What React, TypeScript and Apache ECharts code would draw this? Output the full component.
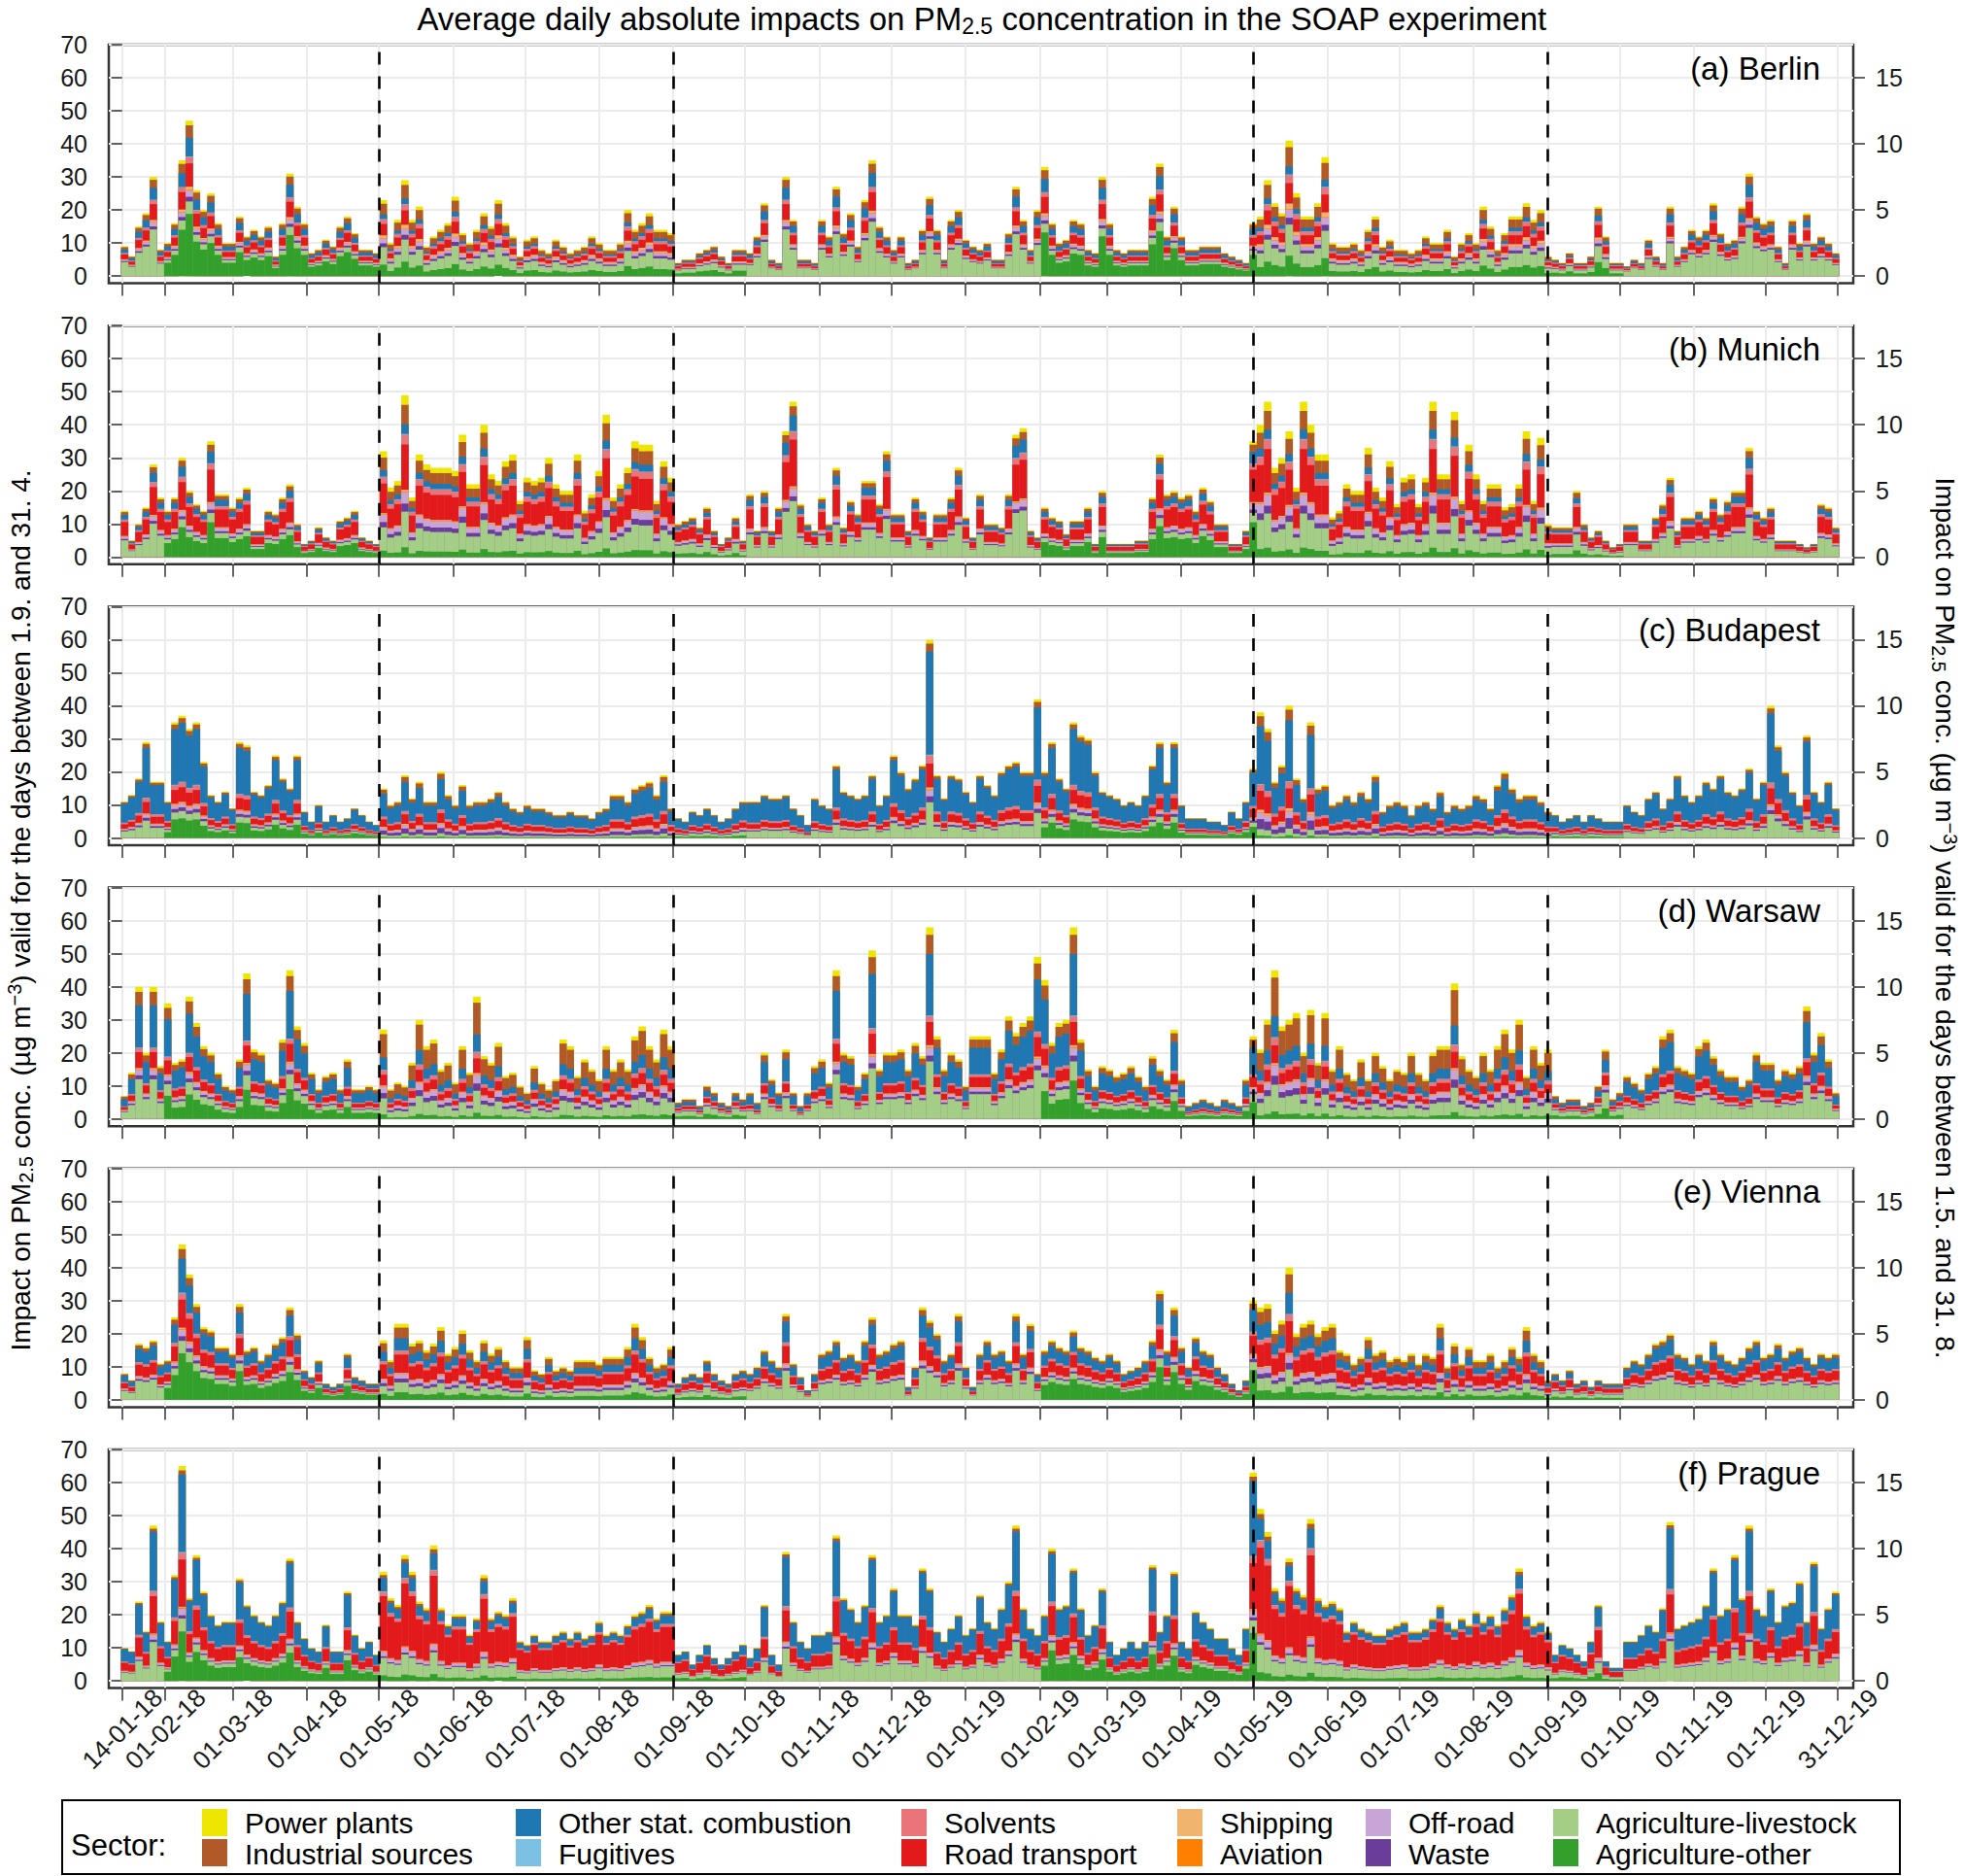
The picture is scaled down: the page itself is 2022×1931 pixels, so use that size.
import { useEffect, useRef } from "react";
import * as echarts from "echarts";

const FONT = '"Liberation Sans", Arial, Helvetica, sans-serif';

// legend order (top of the stack first)
const SECTORS = [
  "Power plants", "Industrial sources", "Other stat. combustion", "Fugitives",
  "Solvents", "Road transport", "Shipping", "Aviation", "Off-road", "Waste",
  "Agriculture-livestock", "Agriculture-other",
];
const SECTOR_COLORS = [
  "#EEE600", "#B15928", "#1F78B4", "#7CC0E4", "#E9757A", "#E31A1C",
  "#F0B46F", "#FF7F00", "#C8A5D7", "#6A3D9A", "#A4CD86", "#33A02C",
];

const CITIES = ["(a) Berlin", "(b) Munich", "(c) Budapest", "(d) Warsaw", "(e) Vienna", "(f) Prague"];

// days counted from 14-01-2018
const TICK_DAYS = [0, 18, 46, 77, 107, 138, 168, 199, 230, 260, 291, 321, 352, 383, 411, 442, 472, 503, 533, 564, 595, 625, 656, 686, 716];
const TICK_LABELS = [
  "14-01-18", "01-02-18", "01-03-18", "01-04-18", "01-05-18", "01-06-18", "01-07-18", "01-08-18",
  "01-09-18", "01-10-18", "01-11-18", "01-12-18", "01-01-19", "01-02-19", "01-03-19", "01-04-19",
  "01-05-19", "01-06-19", "01-07-19", "01-08-19", "01-09-19", "01-10-19", "01-11-19", "01-12-19", "31-12-19",
];
const DASH_DAYS = [107, 230, 472, 595];
const LEFT_TICKS = [0, 10, 20, 30, 40, 50, 60, 70];
const RIGHT_TICKS = [0, 5, 10, 15];

// season of each stretch of days: W0 winter, W1 late winter/spring, S summer (right axis), A September
const SEASON_START = [0, 18, 107, 230, 260, 383, 472, 595, 625];
const SEASON_KIND = ["W0", "W1", "S", "A", "W0", "W1", "S", "A", "W0"];

// 3-day bins of the plotted total (left-axis units)
const BIN = 3;
const berlin = [
  9, 6, 15, 19, 30, 8, 10, 16, 35, 47, 26, 20, 25, 16, 10, 10, 18, 12, 14, 12,
  15, 6, 16, 31, 21, 16, 7, 8, 11, 9, 15, 18, 13, 8, 8, 7, 23, 10, 17, 29,
  17, 21, 9, 12, 14, 16, 24, 13, 10, 14, 19, 15, 23, 16, 12, 6, 11, 12, 8, 7,
  11, 9, 7, 8, 9, 12, 10, 8, 8, 10, 20, 14, 16, 19, 14, 14, 13, 4, 5, 5,
  7, 8, 9, 6, 4, 8, 8, 7, 12, 22, 5, 4, 30, 17, 5, 5, 4, 17, 12, 27,
  13, 19, 9, 23, 35, 15, 12, 8, 12, 4, 5, 14, 24, 14, 5, 17, 20, 11, 9, 8,
  10, 5, 5, 13, 27, 17, 8, 20, 33, 16, 10, 11, 17, 16, 8, 7, 30, 16, 8, 7,
  8, 8, 8, 24, 34, 12, 21, 12, 8, 8, 9, 9, 9, 7, 6, 5, 4, 16, 18, 29,
  22, 19, 41, 25, 18, 18, 22, 36, 10, 9, 9, 10, 8, 14, 18, 9, 11, 8, 8, 7,
  8, 12, 10, 10, 14, 6, 10, 13, 10, 21, 15, 8, 13, 18, 18, 22, 17, 20, 6, 5,
  4, 7, 4, 4, 6, 21, 12, 4, 4, 3, 5, 4, 11, 6, 4, 21, 6, 9, 14, 12,
  14, 22, 13, 10, 11, 21, 31, 18, 16, 17, 9, 4, 17, 10, 19, 10, 12, 10, 7,
];
const munich = [
  14, 5, 10, 15, 28, 18, 14, 18, 30, 20, 16, 14, 35, 19, 19, 15, 18, 21, 8, 8,
  14, 13, 18, 22, 10, 4, 5, 9, 6, 5, 11, 12, 14, 6, 5, 4, 32, 21, 23, 49,
  18, 31, 28, 27, 27, 27, 26, 37, 22, 22, 40, 25, 23, 29, 31, 17, 24, 23, 24, 30,
  22, 20, 20, 31, 14, 19, 26, 43, 18, 22, 27, 35, 34, 34, 17, 29, 24, 10, 11, 12,
  9, 15, 8, 4, 6, 12, 5, 19, 8, 20, 8, 15, 38, 47, 16, 10, 8, 18, 10, 27,
  9, 17, 13, 23, 23, 16, 32, 13, 13, 8, 18, 14, 6, 13, 13, 18, 27, 12, 6, 19,
  10, 10, 9, 19, 37, 39, 8, 6, 15, 12, 11, 7, 11, 11, 15, 4, 20, 4, 4, 4,
  4, 5, 5, 18, 31, 19, 20, 18, 19, 14, 21, 17, 10, 10, 4, 4, 8, 35, 40, 47,
  27, 30, 38, 21, 47, 40, 31, 31, 12, 14, 22, 20, 20, 33, 21, 18, 29, 16, 24, 25,
  16, 24, 47, 25, 25, 44, 17, 34, 25, 17, 22, 22, 15, 16, 22, 38, 17, 36, 10, 9,
  9, 9, 20, 10, 6, 8, 5, 3, 4, 10, 10, 5, 5, 12, 16, 24, 8, 12, 12, 14,
  12, 18, 13, 17, 20, 20, 33, 14, 12, 15, 5, 5, 5, 4, 3, 4, 16, 15, 9,
];
const budapest = [
  11, 13, 18, 29, 17, 17, 11, 35, 37, 33, 35, 23, 13, 11, 14, 9, 29, 28, 14, 13,
  16, 25, 18, 15, 25, 8, 5, 10, 5, 7, 5, 6, 9, 7, 5, 4, 15, 10, 11, 19,
  12, 17, 11, 11, 20, 13, 10, 16, 10, 11, 11, 12, 14, 11, 9, 8, 10, 9, 9, 8,
  7, 7, 8, 7, 7, 6, 8, 9, 13, 13, 11, 15, 16, 17, 13, 19, 9, 6, 5, 8,
  7, 9, 7, 5, 6, 9, 11, 11, 11, 13, 12, 12, 13, 9, 7, 4, 12, 10, 9, 22,
  14, 13, 12, 13, 19, 10, 13, 25, 20, 15, 18, 22, 60, 19, 12, 19, 18, 14, 11, 19,
  16, 13, 20, 22, 23, 20, 20, 42, 20, 29, 18, 15, 35, 31, 30, 20, 14, 13, 12, 10,
  11, 10, 13, 22, 29, 17, 29, 10, 6, 6, 6, 5, 5, 4, 8, 6, 11, 21, 38, 33,
  17, 22, 40, 18, 12, 35, 15, 16, 10, 11, 13, 11, 14, 12, 19, 8, 10, 11, 10, 7,
  10, 11, 9, 14, 8, 10, 9, 10, 13, 12, 9, 16, 20, 15, 12, 13, 13, 11, 8, 7,
  5, 6, 7, 5, 7, 6, 5, 5, 5, 10, 8, 7, 12, 14, 9, 12, 19, 13, 11, 13,
  17, 15, 19, 14, 13, 15, 21, 12, 17, 40, 28, 20, 14, 10, 31, 14, 11, 17, 9,
];
const warsaw = [
  7, 14, 40, 20, 40, 16, 35, 17, 18, 37, 29, 22, 20, 14, 10, 9, 18, 44, 21, 20,
  12, 11, 24, 45, 28, 23, 14, 9, 13, 14, 9, 18, 9, 9, 10, 9, 27, 9, 11, 10,
  17, 30, 22, 24, 15, 17, 11, 22, 14, 37, 19, 17, 23, 13, 14, 10, 8, 16, 11, 9,
  12, 24, 22, 13, 18, 15, 12, 22, 15, 18, 15, 25, 28, 22, 18, 27, 22, 5, 6, 6,
  4, 10, 8, 5, 4, 8, 6, 8, 5, 20, 12, 8, 21, 8, 4, 8, 16, 18, 11, 45,
  20, 19, 10, 14, 51, 15, 20, 20, 21, 15, 23, 19, 58, 25, 15, 20, 18, 10, 25, 25,
  25, 14, 21, 31, 26, 29, 31, 49, 42, 23, 29, 30, 58, 24, 15, 10, 16, 15, 13, 14,
  16, 13, 10, 19, 15, 12, 27, 12, 4, 5, 6, 5, 4, 6, 5, 4, 12, 25, 21, 30,
  45, 28, 30, 32, 20, 33, 17, 32, 15, 22, 14, 12, 18, 12, 20, 16, 12, 15, 14, 20,
  14, 12, 20, 22, 22, 41, 19, 15, 13, 20, 15, 22, 27, 21, 30, 13, 22, 17, 21, 7,
  5, 6, 6, 4, 5, 10, 21, 6, 8, 13, 11, 9, 14, 16, 25, 27, 16, 15, 14, 22,
  24, 19, 15, 13, 13, 10, 12, 20, 17, 17, 12, 15, 14, 16, 34, 20, 26, 18, 8,
];
const vienna = [
  8, 6, 17, 16, 18, 11, 12, 25, 47, 38, 29, 22, 21, 16, 16, 14, 29, 15, 16, 12,
  14, 17, 19, 28, 20, 9, 7, 12, 5, 4, 5, 14, 7, 6, 5, 5, 18, 12, 23, 23,
  17, 18, 15, 17, 22, 14, 16, 21, 15, 12, 18, 14, 16, 12, 10, 10, 19, 9, 8, 13,
  9, 10, 9, 12, 12, 12, 11, 13, 13, 13, 16, 23, 19, 13, 10, 11, 16, 5, 7, 8,
  7, 12, 8, 6, 5, 8, 9, 8, 10, 15, 12, 10, 26, 11, 7, 3, 8, 14, 15, 18,
  13, 14, 12, 18, 25, 14, 15, 17, 18, 4, 10, 28, 24, 20, 12, 14, 26, 10, 4, 14,
  18, 14, 15, 12, 26, 14, 23, 8, 15, 18, 16, 15, 21, 16, 15, 13, 12, 14, 12, 8,
  9, 10, 12, 18, 33, 15, 28, 16, 10, 19, 15, 14, 10, 8, 5, 3, 6, 30, 28, 29,
  21, 24, 40, 20, 23, 24, 20, 22, 23, 15, 14, 11, 13, 19, 14, 15, 12, 13, 12, 14,
  11, 14, 13, 23, 10, 17, 11, 16, 12, 12, 14, 10, 12, 16, 13, 22, 14, 12, 6, 8,
  6, 9, 5, 6, 4, 6, 5, 5, 5, 10, 12, 11, 14, 17, 18, 20, 14, 13, 11, 14,
  12, 18, 14, 12, 11, 13, 16, 18, 13, 14, 17, 13, 15, 16, 13, 11, 14, 13, 14,
];
const prague = [
  10, 9, 24, 15, 47, 18, 12, 32, 65, 25, 38, 27, 20, 17, 18, 18, 31, 23, 20, 18,
  17, 20, 24, 37, 18, 13, 10, 9, 17, 9, 9, 27, 14, 10, 12, 8, 33, 25, 23, 38,
  33, 24, 22, 41, 22, 17, 20, 20, 14, 19, 32, 19, 21, 20, 25, 12, 11, 14, 12, 12,
  14, 15, 13, 15, 13, 14, 18, 14, 15, 14, 17, 20, 21, 23, 19, 21, 21, 8, 9, 5,
  8, 11, 7, 5, 7, 9, 11, 7, 10, 23, 8, 5, 39, 18, 12, 10, 14, 14, 15, 44,
  25, 22, 18, 23, 38, 18, 20, 28, 20, 20, 17, 34, 28, 15, 12, 16, 20, 14, 16, 26,
  18, 16, 22, 30, 47, 22, 16, 14, 20, 40, 22, 23, 34, 22, 14, 17, 28, 12, 8, 10,
  12, 10, 12, 35, 15, 20, 33, 12, 10, 21, 18, 16, 13, 13, 10, 8, 16, 63, 52, 45,
  28, 25, 37, 28, 26, 49, 25, 23, 24, 22, 15, 18, 16, 15, 14, 14, 16, 17, 18, 15,
  15, 16, 19, 23, 18, 16, 19, 17, 21, 18, 20, 17, 22, 26, 34, 20, 17, 18, 15, 8,
  11, 10, 8, 6, 12, 23, 6, 4, 4, 12, 12, 14, 17, 15, 22, 48, 16, 17, 18, 19,
  23, 34, 20, 22, 38, 25, 47, 22, 20, 28, 18, 23, 24, 30, 18, 36, 16, 22, 27,
];

// sector shares (%) per season, in SECTORS order
const berlinShares = {
  W0: [3, 8, 12, 0.5, 4, 16, 2, 0.5, 4, 3, 47, 0],
  W1: [3, 8, 12, 0.5, 4, 15, 2, 0.5, 4, 3, 8, 40],
  S: [5, 14, 6, 0.5, 6, 15, 4, 0.5, 6, 5, 23, 15],
  A: [3, 10, 8, 0.5, 5, 18, 3, 0.5, 5, 4, 23, 20],
};
const munichShares = {
  W0: [3, 6, 10, 0.5, 5, 30, 1, 0.5, 5, 3, 36, 0],
  W1: [3, 6, 10, 0.5, 5, 28, 1, 0.5, 5, 3, 8, 30],
  S: [6, 12, 6, 0.5, 6, 28, 1, 0.5, 7, 5, 22, 6],
  A: [3, 8, 8, 0.5, 5, 30, 1, 0.5, 6, 4, 24, 10],
};
const budapestShares = {
  W0: [2, 4, 52, 0.5, 4, 12, 1, 0.5, 3, 3, 18, 0],
  W1: [2, 4, 48, 0.5, 4, 12, 1, 0.5, 3, 3, 6, 16],
  S: [3, 8, 46, 0.5, 5, 15, 2, 0.5, 5, 8, 5, 2],
  A: [2, 5, 45, 0.5, 5, 15, 1, 0.5, 4, 5, 10, 7],
};
const warsawShares = {
  W0: [4, 10, 32, 0.5, 3, 12, 1, 0.5, 4, 3, 30, 0],
  W1: [4, 10, 32, 0.5, 3, 12, 1, 0.5, 4, 3, 10, 20],
  S: [5, 26, 14, 0.5, 5, 12, 1, 0.5, 7, 6, 18, 5],
  A: [3, 12, 18, 0.5, 4, 14, 1, 0.5, 5, 4, 23, 15],
};
const viennaShares = {
  W0: [3, 6, 24, 0.5, 4, 20, 1, 0.5, 4, 3, 34, 0],
  W1: [3, 6, 22, 0.5, 4, 18, 1, 0.5, 4, 3, 8, 30],
  S: [5, 14, 16, 0.5, 5, 24, 1, 0.5, 6, 5, 13, 10],
  A: [3, 7, 18, 0.5, 5, 24, 1, 0.5, 5, 4, 20, 12],
};
const pragueShares = {
  W0: [2, 2, 38, 0.5, 3, 24, 0.5, 0.5, 3, 1.5, 25, 0],
  W1: [2, 2, 36, 0.5, 3, 22, 0.5, 0.5, 3, 1.5, 6, 23],
  S: [3, 3, 12, 0.5, 4, 50, 0.5, 0.5, 4, 1.5, 16, 5],
  A: [2, 2, 25, 0.5, 4, 36, 0.5, 0.5, 4, 1.5, 14, 10],
};

const TOTALS = [berlin, munich, budapest, warsaw, vienna, prague];
const SHARES: Record<string, number[]>[] = [berlinShares, munichShares, budapestShares, warsawShares, viennaShares, pragueShares];

// layout (px)
const GRID_LEFT = 112;
const GRID_W = 1796;
const GRID_TOP = 46;
const GRID_STEP = 289.2;
const GRID_H = 245.6;
const X_MIN = -5.6;
const X_MAX = 722.4;
const Y_MIN = -2.2;
const Y_MAX = 70;

const TEXT = "#1a1a1a";
const GRIDLINE = "#EBEBEB";
const FRAME = "#333333";

function seasonOf(day: number) {
  let s = SEASON_KIND[0];
  SEASON_START.forEach((d, i) => {
    if (day >= d) s = SEASON_KIND[i];
  });
  return s;
}

// main text, subscript (s) and superscript (p) tokens
function richStyles(size: number, lineHeight: number) {
  const small = Math.round(size * 0.7);
  const smallLine = Math.round(size * 0.45);
  return {
    a: { fontSize: size, fontFamily: FONT, fill: "#000", lineHeight, verticalAlign: "middle" },
    s: { fontSize: small, fontFamily: FONT, fill: "#000", lineHeight: smallLine, verticalAlign: "bottom" },
    p: { fontSize: small, fontFamily: FONT, fill: "#000", lineHeight: smallLine, verticalAlign: "top" },
  };
}

function buildOption(): echarts.EChartsOption {
  const grids = CITIES.map((_, i) => ({
    left: GRID_LEFT,
    top: GRID_TOP + i * GRID_STEP,
    width: GRID_W,
    height: GRID_H,
    show: true,
    borderColor: FRAME,
    borderWidth: 2.5,
    backgroundColor: "transparent",
    containLabel: false,
    outerBoundsMode: "none",
  }));

  const xAxes = CITIES.map((_, i) => ({
    type: "value",
    gridIndex: i,
    min: X_MIN,
    max: X_MAX,
    position: "bottom",
    axisLine: { show: false, onZero: false },
    axisTick: { show: true, inside: false, length: 13, customValues: TICK_DAYS, lineStyle: { color: FRAME, width: 1.5 } },
    axisLabel: {
      show: i === CITIES.length - 1,
      customValues: TICK_DAYS,
      rotate: 45,
      align: "center",
      verticalAlign: "middle",
      margin: 42,
      fontSize: 26,
      fontFamily: FONT,
      color: TEXT,
      formatter: (v: number) => TICK_LABELS[TICK_DAYS.indexOf(v)] ?? "",
    },
    splitLine: { show: true, lineStyle: { color: GRIDLINE, width: 2 } },
  }));

  const yAxes: any[] = [];
  CITIES.forEach((_, i) => {
    yAxes.push({
      type: "value",
      gridIndex: i,
      position: "left",
      min: Y_MIN,
      max: Y_MAX,
      axisLine: { show: false },
      axisTick: { show: true, length: 11, customValues: LEFT_TICKS, lineStyle: { color: FRAME, width: 1.5 } },
      axisLabel: { customValues: LEFT_TICKS, fontSize: 25, fontFamily: FONT, color: TEXT, margin: 22 },
      splitLine: { show: true, lineStyle: { color: GRIDLINE, width: 2 } },
    });
    yAxes.push({
      type: "value",
      gridIndex: i,
      position: "right",
      min: Y_MIN / 4,
      max: Y_MAX / 4,
      axisLine: { show: false },
      axisTick: { show: true, length: 12, customValues: RIGHT_TICKS, lineStyle: { color: FRAME, width: 1.5 } },
      axisLabel: { customValues: RIGHT_TICKS, fontSize: 25, fontFamily: FONT, color: TEXT, margin: 23 },
      splitLine: { show: false },
    });
  });

  // Each sector is drawn as a bar from 0 up to the running total of itself and every sector
  // below it; later series cover earlier ones, so the visible bands form the stack.
  const series: any[] = [];
  TOTALS.forEach((totals, c) => {
    const shares = SHARES[c];
    SECTORS.forEach((name, s) => {
      series.push({
        name,
        type: "bar",
        xAxisIndex: c,
        yAxisIndex: 2 * c,
        barWidth: 7.6,
        barGap: "-100%",
        itemStyle: { color: SECTOR_COLORS[s] },
        emphasis: { disabled: true },
        silent: true,
        data: totals.map((t, k) => {
          const day = k * BIN;
          const row = shares[seasonOf(day)];
          let cum = 0;
          for (let j = s; j < row.length; j++) cum += row[j];
          const v = (t * cum) / 100;
          return [day + 1, row[s] > 0 ? +v.toFixed(3) : null];
        }),
        markLine:
          s === 0
            ? {
                silent: true,
                symbol: ["none", "none"],
                label: { show: false },
                z: 10,
                lineStyle: { color: "#000", width: 2.6, type: [13, 12] },
                data: DASH_DAYS.map((d) => ({ xAxis: d })),
              }
            : undefined,
      });
    });
  });

  const graphics: any[] = [];
  graphics.push({
    type: "text",
    x: 1011,
    y: 19,
    z: 100,
    style: {
      text: "{a|Average daily absolute impacts on PM}{s|2.5}{a| concentration in the SOAP experiment}",
      rich: richStyles(33, 38),
      align: "center",
      verticalAlign: "middle",
    },
  });
  CITIES.forEach((name, i) => {
    graphics.push({
      type: "text",
      x: 1874,
      y: GRID_TOP + i * GRID_STEP + 24,
      z: 100,
      style: { text: name, fontSize: 33, fontFamily: FONT, fill: "#000", align: "right", verticalAlign: "middle" },
    });
  });
  graphics.push({
    type: "text",
    x: 21,
    y: 937,
    z: 100,
    rotation: Math.PI / 2,
    style: {
      text: "{a|Impact on PM}{s|2.5}{a| conc. (µg m}{p|−3}{a|) valid for the days between 1.9. and 31. 4.}",
      rich: richStyles(28, 32),
      align: "center",
      verticalAlign: "middle",
    },
  });
  graphics.push({
    type: "text",
    x: 2002,
    y: 945,
    z: 100,
    rotation: -Math.PI / 2,
    style: {
      text: "{a|Impact on PM}{s|2.5}{a| conc. (µg m}{p|−3}{a|) valid for the days between 1.5. and 31. 8.}",
      rich: richStyles(28, 32),
      align: "center",
      verticalAlign: "middle",
    },
  });

  // legend box
  graphics.push({
    type: "rect",
    z: 100,
    shape: { x: 64, y: 1853, width: 1892, height: 76 },
    style: { fill: "#fff", stroke: "#000", lineWidth: 2 },
  });
  graphics.push({
    type: "text",
    x: 73,
    y: 1899,
    z: 101,
    style: { text: "Sector:", fontSize: 31, fontFamily: FONT, fill: "#000", align: "left", verticalAlign: "middle" },
  });
  const keyX = [208, 531, 928, 1212, 1406, 1599];
  const rowY = [1862, 1893];
  const textY = [1876, 1908];
  SECTORS.forEach((name, s) => {
    const col = Math.floor(s / 2);
    const row = s % 2;
    graphics.push({
      type: "rect",
      z: 101,
      shape: { x: keyX[col], y: rowY[row], width: 26, height: 28 },
      style: { fill: SECTOR_COLORS[s] },
    });
    graphics.push({
      type: "text",
      x: keyX[col] + 44,
      y: textY[row],
      z: 101,
      style: { text: name, fontSize: 30, lineHeight: 30, fontFamily: FONT, fill: "#000", align: "left", verticalAlign: "middle" },
    });
  });

  return {
    animation: false,
    backgroundColor: "#ffffff",
    textStyle: { fontFamily: FONT },
    grid: grids,
    xAxis: xAxes,
    yAxis: yAxes,
    series,
    graphic: graphics,
  } as echarts.EChartsOption;
}

export default function App() {
  const chartRef = useRef<HTMLDivElement>(null);

  useEffect(() => {
    if (!chartRef.current) return;
    const chart = echarts.init(chartRef.current, undefined, { renderer: "svg" });
    chart.setOption(buildOption());
    return () => {
      chart.dispose();
    };
  }, []);

  return (
    <div
      ref={chartRef}
      style={{ position: "absolute", left: 0, top: 0, width: 2022, height: 1931, background: "#ffffff" }}
    />
  );
}
